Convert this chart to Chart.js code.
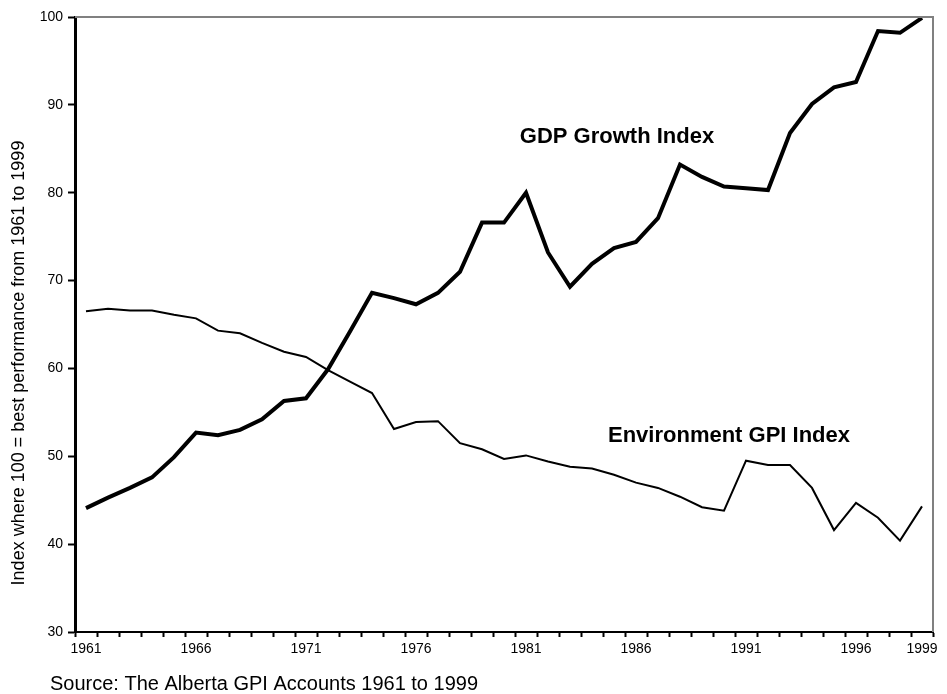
<!DOCTYPE html>
<html>
<head>
<meta charset="utf-8">
<script src="https://cdn.jsdelivr.net/npm/chart.js@4.4.1/dist/chart.umd.min.js"></script>
<style>
  body { margin: 0; background: #fff; }
  canvas { display: block; }
</style>
</head>
<body>
<canvas id="gpi_chart" width="947" height="694"></canvas>
<script>
// Alberta GPI: GDP vs environment index, 1961-1999
var years = ['1961','1962','1963','1964','1965','1966','1967','1968','1969','1970',
             '1971','1972','1973','1974','1975','1976','1977','1978','1979','1980',
             '1981','1982','1983','1984','1985','1986','1987','1988','1989','1990',
             '1991','1992','1993','1994','1995','1996','1997','1998','1999'];

var gdpIndex = [44.1, 45.3, 46.4, 47.6, 49.9, 52.7, 52.4, 53.0, 54.2, 56.3,
                56.6, 59.9, 64.2, 68.6, 68.0, 67.3, 68.6, 71.0, 76.6, 76.6,
                80.0, 73.2, 69.3, 71.9, 73.7, 74.4, 77.1, 83.2, 81.8, 80.7,
                80.5, 80.3, 86.8, 90.1, 92.0, 92.6, 98.4, 98.2, 99.9];

var envIndex = [66.5, 66.8, 66.6, 66.6, 66.1, 65.7, 64.3, 64.0, 62.9, 61.9,
                61.3, 59.8, 58.5, 57.2, 53.1, 53.9, 54.0, 51.5, 50.8, 49.7,
                50.1, 49.4, 48.8, 48.6, 47.9, 47.0, 46.4, 45.4, 44.2, 43.8,
                49.5, 49.0, 49.0, 46.4, 41.6, 44.7, 43.0, 40.4, 44.3];

var shownYears = ['1961','1966','1971','1976','1981','1986','1991','1996','1999'];

var yTitle = 'Index where 100 = best performance from 1961 to 1999';
var sourceNote = 'Source: The Alberta GPI Accounts 1961 to 1999';

var font = '"Liberation Sans", Arial, sans-serif';

// gray frame on top/right, series labels, y title and source line
var extras = {
    id: 'extras',
    afterDraw: function(chart){
        var ctx = chart.ctx;
        var a = chart.chartArea;
        ctx.save();
        ctx.strokeStyle = '#808080';
        ctx.lineWidth = 2;
        ctx.beginPath();
        ctx.moveTo(a.left, a.top);
        ctx.lineTo(a.right, a.top);
        ctx.lineTo(a.right, a.bottom);
        ctx.stroke();

        ctx.fillStyle = '#000';
        ctx.font = 'bold 22px ' + font;
        ctx.textAlign = 'center';
        ctx.textBaseline = 'middle';
        ctx.fillText('GDP Growth Index', 617, 137);
        ctx.fillText('Environment GPI Index', 729, 436);

        ctx.font = '18px ' + font;
        ctx.translate(19, 363);
        ctx.rotate(-Math.PI / 2);
        ctx.fillText(yTitle, 0, 0);
        ctx.setTransform(1, 0, 0, 1, 0, 0);

        ctx.font = '20px ' + font;
        ctx.textAlign = 'left';
        ctx.textBaseline = 'alphabetic';
        ctx.fillText(sourceNote, 50, 690);
        ctx.restore();
    }
};

function drawChart(){
    var ctx = document.getElementById('gpi_chart').getContext('2d');
    var chart = new Chart(ctx, {
        type: 'line',
        data: {
            labels: years,
            datasets: [{
                label: 'GDP Growth Index',
                data: gdpIndex,
                borderColor: '#000',
                borderWidth: 4,
                pointRadius: 0,
                tension: 0,
                fill: false
            }, {
                label: 'Environment GPI Index',
                data: envIndex,
                borderColor: '#000',
                borderWidth: 2,
                pointRadius: 0,
                tension: 0,
                fill: false
            }]
        },
        options: {
            responsive: false,
            animation: false,
            maintainAspectRatio: false,
            layout: { padding: { left: 0, top: 17, right: 14, bottom: 0 } },
            plugins: {
                legend: { display: false },
                tooltip: { enabled: false }
            },
            scales: {
                x: {
                    type: 'category',
                    offset: true,
                    afterFit: function(scale){ scale.height = 62; },
                    border: { color: '#000', width: 2 },
                    grid: {
                        offset: true,
                        drawOnChartArea: false,
                        drawTicks: true,
                        tickLength: 5,
                        tickWidth: 2,
                        tickColor: '#000'
                    },
                    ticks: {
                        autoSkip: false,
                        maxRotation: 0,
                        padding: 4,
                        color: '#000',
                        font: { family: font, size: 14 },
                        callback: function(val, idx){
                            var lbl = years[idx];
                            return shownYears.indexOf(lbl) >= 0 ? lbl : '';
                        }
                    }
                },
                y: {
                    min: 30,
                    max: 100,
                    afterFit: function(scale){ scale.width = 75; },
                    border: { color: '#000', width: 3 },
                    grid: {
                        drawOnChartArea: false,
                        drawTicks: true,
                        tickLength: 7,
                        tickWidth: 2,
                        tickColor: '#000'
                    },
                    ticks: {
                        stepSize: 10,
                        padding: 5,
                        color: '#000',
                        font: { family: font, size: 14 }
                    }
                }
            }
        },
        plugins: [extras]
    });
}

drawChart();
</script>
</body>
</html>
